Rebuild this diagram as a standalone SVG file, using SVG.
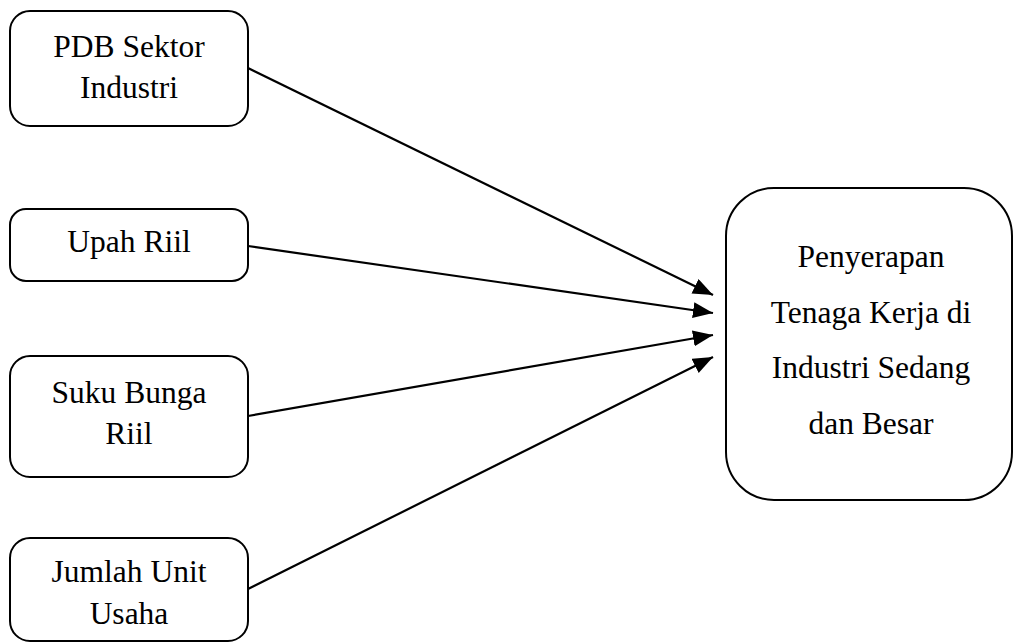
<svg xmlns="http://www.w3.org/2000/svg" width="1014" height="643" viewBox="0 0 1014 643">
<style>
.box{fill:#fff;stroke:#000;stroke-width:2}
.c{stroke:#000;stroke-width:2.2;fill:none}
</style>
<defs>
<marker id="ah" markerUnits="userSpaceOnUse" markerWidth="22" markerHeight="18" refX="20" refY="8" orient="auto" viewBox="0 0 22 18">
<path d="M0,0 L20,8 L0,16 z" fill="#000"/>
</marker>
</defs>
<rect width="1014" height="643" fill="#fff"/>
<g id="connectors">
<line class="c" x1="248" y1="68" x2="713" y2="295" marker-end="url(#ah)"/>
<line class="c" x1="248" y1="246" x2="713" y2="313" marker-end="url(#ah)"/>
<line class="c" x1="248" y1="416" x2="713" y2="335" marker-end="url(#ah)"/>
<line class="c" x1="248" y1="589" x2="713" y2="357" marker-end="url(#ah)"/>
</g>
<g font-family="Liberation Serif, Times New Roman, serif" font-size="31.5" text-anchor="middle" fill="#000">
<g id="pdb">
<rect class="box" x="10" y="11" width="238" height="115" rx="20"/>
<text x="129" y="57">PDB Sektor</text>
<text x="129" y="98">Industri</text>
</g>
<g id="upah">
<rect class="box" x="10" y="209" width="238" height="72" rx="16"/>
<text x="129" y="252">Upah Riil</text>
</g>
<g id="suku">
<rect class="box" x="10" y="356" width="238" height="121" rx="20"/>
<text x="129" y="403">Suku Bunga</text>
<text x="129" y="444">Riil</text>
</g>
<g id="jumlah">
<rect class="box" x="10" y="538" width="238" height="103" rx="20"/>
<text x="129" y="582">Jumlah Unit</text>
<text x="129" y="624">Usaha</text>
</g>
<g id="penyerapan">
<rect class="box" x="726" y="188" width="286" height="312" rx="48"/>
<text x="871" y="267">Penyerapan</text>
<text x="871" y="323">Tenaga Kerja di</text>
<text x="871" y="378">Industri Sedang</text>
<text x="871" y="434">dan Besar</text>
</g>
</g>
</svg>
